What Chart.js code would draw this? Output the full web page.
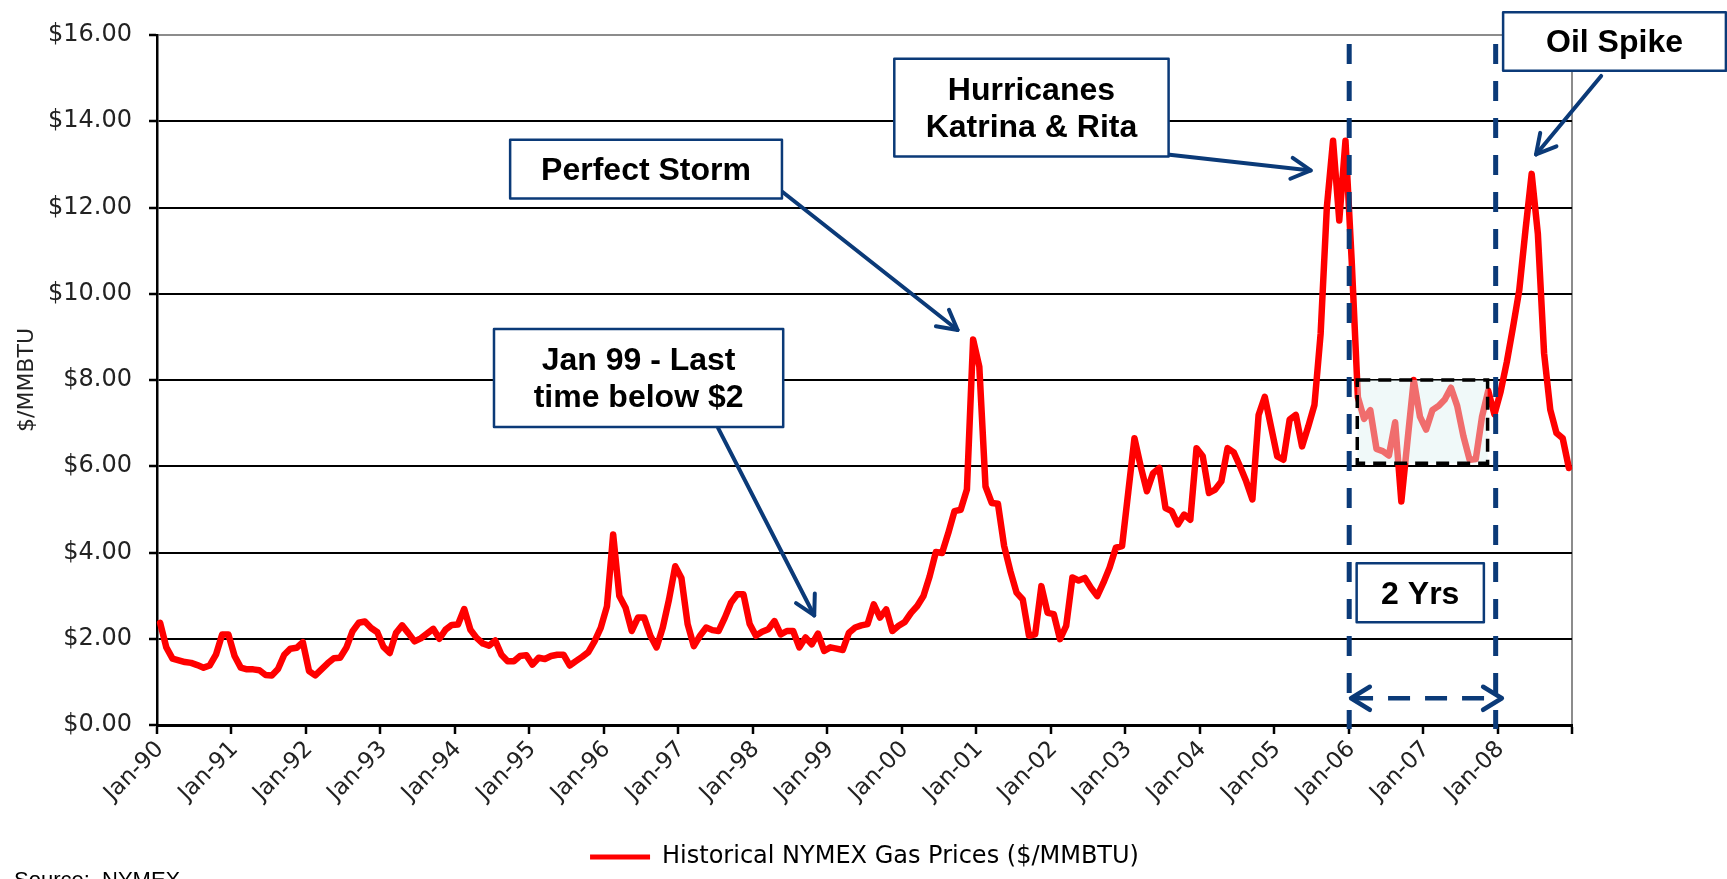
<!DOCTYPE html>
<html lang="en">
<head>
<meta charset="utf-8" />
<title>Historical NYMEX Gas Prices</title>
<style>
  html, body { margin: 0; padding: 0; background: #fff; }
  canvas { display: block; }
</style>
</head>
<body>
<canvas id="gasChart" width="1727" height="879"></canvas>

<script src="https://cdn.jsdelivr.net/npm/chart.js@4.4.1/dist/chart.umd.min.js"></script>
<script>
// monthly NYMEX settle, $/MMBTU, one row per year (Jan..Dec)
const monthNames = ['Jan', 'Feb', 'Mar', 'Apr', 'May', 'Jun', 'Jul', 'Aug', 'Sep', 'Oct', 'Nov', 'Dec'];
const yearCodes = ['90', '91', '92', '93', '94', '95', '96', '97', '98', '99', '00', '01', '02', '03', '04', '05', '06', '07', '08'];

const gas1990 = [2.37, 1.80, 1.54, 1.50, 1.46, 1.44, 1.39, 1.33, 1.38, 1.63, 2.10, 2.10];
const gas1991 = [1.60, 1.33, 1.29, 1.29, 1.27, 1.16, 1.15, 1.30, 1.63, 1.77, 1.79, 1.92];
const gas1992 = [1.25, 1.15, 1.29, 1.43, 1.55, 1.56, 1.79, 2.17, 2.37, 2.40, 2.25, 2.15];
const gas1993 = [1.81, 1.67, 2.13, 2.31, 2.13, 1.94, 2.01, 2.12, 2.23, 2.00, 2.21, 2.32];
const gas1994 = [2.33, 2.69, 2.21, 2.02, 1.89, 1.84, 1.96, 1.63, 1.48, 1.48, 1.60, 1.62];
const gas1995 = [1.40, 1.56, 1.53, 1.60, 1.63, 1.63, 1.38, 1.48, 1.58, 1.69, 1.94, 2.25];
const gas1996 = [2.75, 4.42, 2.99, 2.72, 2.18, 2.49, 2.49, 2.07, 1.80, 2.26, 2.91, 3.68];
const gas1997 = [3.41, 2.34, 1.83, 2.07, 2.26, 2.20, 2.18, 2.49, 2.84, 3.03, 3.03, 2.34];
const gas1998 = [2.07, 2.16, 2.22, 2.41, 2.10, 2.18, 2.18, 1.80, 2.03, 1.87, 2.12, 1.72];
const gas1999 = [1.80, 1.77, 1.74, 2.14, 2.26, 2.31, 2.34, 2.80, 2.49, 2.68, 2.18, 2.30];
const gas2000 = [2.39, 2.60, 2.76, 2.99, 3.45, 4.01, 3.99, 4.45, 4.96, 4.99, 5.46, 8.94];
const gas2001 = [8.31, 5.53, 5.15, 5.13, 4.15, 3.57, 3.07, 2.91, 2.07, 2.10, 3.22, 2.60];
const gas2002 = [2.57, 1.99, 2.30, 3.42, 3.35, 3.41, 3.18, 2.99, 3.30, 3.65, 4.11, 4.15];
const gas2003 = [5.40, 6.65, 6.00, 5.42, 5.84, 5.96, 5.03, 4.96, 4.65, 4.88, 4.76, 6.42];
const gas2004 = [6.23, 5.38, 5.46, 5.65, 6.42, 6.32, 6.00, 5.65, 5.23, 7.19, 7.61, 6.92];
const gas2005 = [6.23, 6.15, 7.08, 7.19, 6.46, 6.92, 7.42, 9.08, 12.01, 13.55, 11.70, 13.55];
const gas2006 = [10.77, 7.60, 7.10, 7.30, 6.40, 6.35, 6.25, 7.02, 5.18, 6.60, 8.00, 7.15];
const gas2007 = [6.85, 7.30, 7.40, 7.55, 7.82, 7.40, 6.70, 6.15, 6.17, 7.15, 7.75, 7.20];
const gas2008 = [7.73, 8.42, 9.23, 10.08, 11.47, 12.78, 11.39, 8.62, 7.31, 6.77, 6.65, 5.96];

const yTicks = [0, 2, 4, 6, 8, 10, 12, 14, 16];

const prices = [].concat(gas1990, gas1991, gas1992, gas1993, gas1994, gas1995, gas1996,
  gas1997, gas1998, gas1999, gas2000, gas2001, gas2002, gas2003, gas2004, gas2005,
  gas2006, gas2007, gas2008);
const labels = [];
yearCodes.forEach(function (yy) {
  monthNames.forEach(function (mm) { labels.push(mm + '-' + yy); });
});

const NAVY = '#0b3a78';
const axisFont = '"DejaVu Sans", sans-serif';

// callouts, anchored in data units (x = month index, y = $/MMBTU)
const callouts = [
  { lines: ['Perfect Storm'], box: [56.4, 13.57, 100.2, 12.21], from: [100.2, 12.37], to: [128.5, 9.16] },
  { lines: ['Hurricanes', 'Katrina & Rita'], box: [118.3, 15.45, 162.5, 13.18], from: [162.3, 13.23], to: [185.4, 12.86] },
  { lines: ['Oil Spike'], box: [216.4, 16.53, 252.3, 15.17], from: [232.2, 15.05], to: [221.7, 13.23] },
  { lines: ['Jan 99 - Last', 'time below $2'], box: [53.8, 9.18, 100.4, 6.91], from: [89.9, 6.89], to: [105.4, 2.54] },
  { lines: ['2 Yrs'], box: [192.8, 3.75, 213.3, 2.38] }
];
const markerLines = [191.6, 215.2];
const flatBand = [192.9, 8.0, 213.9, 6.07];
const spanArrow = { from: 191.9, to: 216.2, y: 0.62 };

function drawArrowHead(ctx, x1, y1, x2, y2, len, spread) {
  const a = Math.atan2(y2 - y1, x2 - x1);
  ctx.beginPath();
  ctx.moveTo(x2 - len * Math.cos(a - spread), y2 - len * Math.sin(a - spread));
  ctx.lineTo(x2, y2);
  ctx.lineTo(x2 - len * Math.cos(a + spread), y2 - len * Math.sin(a + spread));
  ctx.stroke();
}

const calloutPlugin = {
  id: 'callouts',
  afterDatasetsDraw: function (chart) {
    const ctx = chart.ctx;
    const xs = chart.scales.x, ys = chart.scales.y;
    const X = function (v) { return xs.getPixelForValue(v); };
    const Y = function (v) { return ys.getPixelForValue(v); };
    ctx.save();

    // shaded "flat" band over the 2006-07 prices
    const bx = X(flatBand[0]), by = Y(flatBand[1]);
    const bw = X(flatBand[2]) - bx, bh = Y(flatBand[3]) - by;
    ctx.fillStyle = 'rgba(222, 242, 242, 0.45)';
    ctx.fillRect(bx, by, bw, bh);
    ctx.setLineDash([13, 8]);
    ctx.lineWidth = 3.5;
    ctx.strokeStyle = '#000';
    ctx.strokeRect(bx, by, bw, bh);

    // vertical dashed markers
    ctx.setLineDash([20, 17]);
    ctx.lineWidth = 5;
    ctx.strokeStyle = NAVY;
    markerLines.forEach(function (m) {
      ctx.beginPath();
      ctx.moveTo(X(m), Y(15.79));
      ctx.lineTo(X(m), Y(-0.09));
      ctx.stroke();
    });

    // dashed two-way arrow
    const ax1 = X(spanArrow.from), ax2 = X(spanArrow.to), ay = Y(spanArrow.y);
    ctx.setLineDash([22, 15]);
    ctx.lineWidth = 4.5;
    ctx.beginPath();
    ctx.moveTo(ax1, ay);
    ctx.lineTo(ax2, ay);
    ctx.stroke();
    ctx.setLineDash([]);
    ctx.lineCap = 'round';
    ctx.lineJoin = 'round';
    drawArrowHead(ctx, ax2, ay, ax1, ay, 22, 0.55);
    drawArrowHead(ctx, ax1, ay, ax2, ay, 22, 0.55);

    // callout arrows
    ctx.lineWidth = 4;
    callouts.forEach(function (c) {
      if (!c.from) return;
      const x1 = X(c.from[0]), y1 = Y(c.from[1]), x2 = X(c.to[0]), y2 = Y(c.to[1]);
      ctx.beginPath();
      ctx.moveTo(x1, y1);
      ctx.lineTo(x2, y2);
      ctx.stroke();
      drawArrowHead(ctx, x1, y1, x2, y2, 22, 0.5);
    });

    // callout boxes
    ctx.font = 'bold 32px "Liberation Sans", Arial, sans-serif';
    ctx.textAlign = 'center';
    ctx.textBaseline = 'middle';
    callouts.forEach(function (c) {
      const x = X(c.box[0]), y = Y(c.box[1]);
      const w = X(c.box[2]) - x, h = Y(c.box[3]) - y;
      ctx.fillStyle = '#fff';
      ctx.fillRect(x, y, w, h);
      ctx.lineWidth = 2.5;
      ctx.strokeStyle = NAVY;
      ctx.strokeRect(x, y, w, h);
      ctx.fillStyle = '#000';
      const cx = x + w / 2, cy = y + h / 2 + 2;
      const step = 37;
      c.lines.forEach(function (t, i) {
        ctx.fillText(t, cx, cy + (i - (c.lines.length - 1) / 2) * step);
      });
    });
    ctx.restore();
  },
  afterDraw: function (chart) {
    const ctx = chart.ctx;
    ctx.save();
    ctx.font = '22px "Liberation Sans", Arial, sans-serif';
    ctx.fillStyle = '#000';
    ctx.textAlign = 'left';
    ctx.textBaseline = 'alphabetic';
    ctx.fillText('Source:  NYMEX', 14, 887);
    ctx.restore();
  }
};

new Chart(document.getElementById('gasChart').getContext('2d'), {
  type: 'line',
  data: {
    labels: labels,
    datasets: [{
      label: 'Historical NYMEX Gas Prices ($/MMBTU)',
      data: prices,
      borderColor: '#ff0000',
      backgroundColor: '#ff0000',
      borderWidth: 6.5,
      borderJoinStyle: 'round',
      borderCapStyle: 'round',
      pointRadius: 0,
      tension: 0,
      fill: false
    }]
  },
  options: {
    responsive: false,
    animation: false,
    events: [],
    layout: { padding: { left: 0, right: 155, top: 35, bottom: 0 } },
    plugins: {
      tooltip: { enabled: false },
      legend: {
        position: 'bottom',
        fullSize: false,
        labels: {
          boxWidth: 60,
          boxHeight: 5,
          padding: 10,
          color: '#222',
          font: { family: axisFont, size: 24 },
          generateLabels: function (chart) {
            return [{
              text: chart.data.datasets[0].label,
              fillStyle: '#ff0000',
              strokeStyle: '#ff0000',
              lineWidth: 0,
              hidden: false,
              datasetIndex: 0
            }];
          }
        }
      }
    },
    scales: {
      x: {
        type: 'category',
        offset: true,
        grid: {
          offset: true,
          drawOnChartArea: true,
          lineWidth: 2,
          tickWidth: 2.5,
          tickLength: 9,
          // only the right-hand frame line shows in the plot; year ticks below the axis
          color: function (ctx) { return ctx.tick === undefined ? '#8c8c8c' : 'rgba(0,0,0,0)'; },
          tickColor: function (ctx) {
            return (ctx.tick === undefined || ctx.index % 12 === 0) ? '#000' : 'rgba(0,0,0,0)';
          }
        },
        border: { color: '#000', width: 3 },
        ticks: {
          autoSkip: false,
          minRotation: 45,
          maxRotation: 45,
          padding: 2,
          color: '#222',
          font: { family: axisFont, size: 23 },
          callback: function (val, i) {
            return i % 12 === 0 ? this.getLabelForValue(val) : '';
          }
        },
        afterFit: function (scale) { scale.height = 110; }
      },
      y: {
        min: 0,
        max: 16,
        afterBuildTicks: function (scale) {
          scale.ticks = yTicks.map(function (v) { return { value: v }; });
        },
        grid: {
          lineWidth: 2,
          tickLength: 8,
          tickWidth: 2.5,
          tickColor: '#000',
          color: function (ctx) { return ctx.tick && ctx.tick.value === 16 ? '#8c8c8c' : '#000'; }
        },
        border: { color: '#000', width: 2.5 },
        ticks: {
          padding: 17,
          color: '#222',
          font: { family: axisFont, size: 24 },
          callback: function (v) { return '$' + Number(v).toFixed(2); }
        },
        title: {
          display: true,
          text: '$/MMBTU',
          color: '#222',
          font: { family: axisFont, size: 22 },
          padding: { top: 14, bottom: 0 }
        },
        afterFit: function (scale) { scale.width = 157; }
      }
    }
  },
  plugins: [calloutPlugin]
});
</script>
</body>
</html>
